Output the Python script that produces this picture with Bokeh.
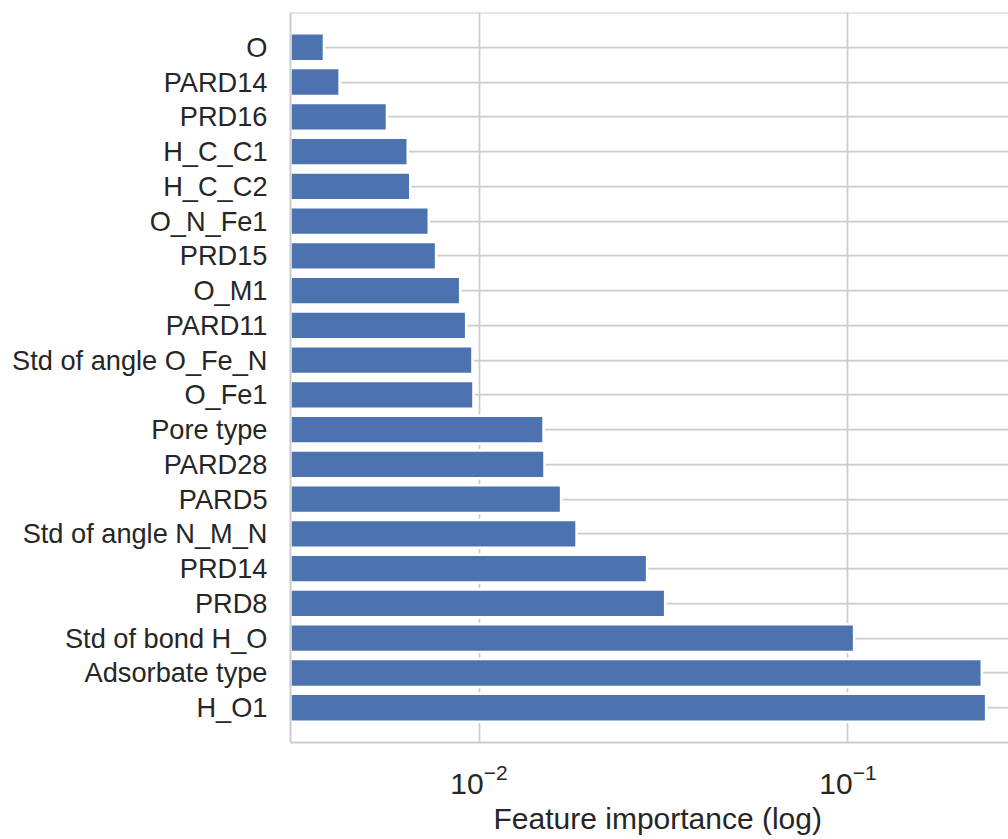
from bokeh.plotting import figure
from bokeh.models import Range1d, FixedTicker, Span, Title, LogTickFormatter
from bokeh.embed import file_html
from bokeh.resources import INLINE

# Features, top to bottom as displayed
features = ["O", "PARD14", "PRD16", "H_C_C1", "H_C_C2", "O_N_Fe1", "PRD15", "O_M1",
            "PARD11", "Std of angle O_Fe_N", "O_Fe1", "Pore type", "PARD28", "PARD5",
            "Std of angle N_M_N", "PRD14", "PRD8", "Std of bond H_O", "Adsorbate type", "H_O1"]
importance = [0.0038, 0.00419, 0.00563, 0.00641, 0.00651, 0.00731, 0.00765, 0.00889,
              0.00923, 0.0096, 0.00966, 0.01496, 0.01505, 0.01669, 0.01838, 0.02855,
              0.03195, 0.1039, 0.2305, 0.2368]
xtick_values = [0.01, 0.1]
x_label = "Feature importance (log)"

FONT = "Liberation Sans"
TEXT = "#262626"
GRID = "#cccccc"
BAR = "#4C72B0"

n = len(features)
ys = list(range(n))

p = figure(width=1008, height=839, x_axis_type="log",
           x_range=Range1d(0.003084, 0.2723), y_range=Range1d(n, -1),
           output_backend="svg", toolbar_location=None,
           min_border_left=290, min_border_right=0, min_border_top=12, min_border_bottom=97)
p.outline_line_color = None
p.background_fill_color = "white"
p.border_fill_color = "white"

p.hbar(y=ys, left=1e-5, right=importance, height=0.8,
       fill_color=BAR, line_color="white", line_width=2.5)

# grids
p.xgrid.ticker = FixedTicker(ticks=xtick_values)
p.ygrid.ticker = FixedTicker(ticks=ys)
for g in (p.xgrid, p.ygrid):
    g.grid_line_color = GRID
    g.grid_line_width = 1.75
p.xgrid.minor_grid_line_color = None

# x axis (log formatter draws 10 with a superscript exponent)
xa = p.xaxis[0]
xa.ticker = FixedTicker(ticks=xtick_values)
xa.formatter = LogTickFormatter()
xa.major_tick_line_color = None
xa.minor_tick_line_color = None
xa.major_tick_in = 0
xa.major_tick_out = 0
xa.minor_tick_in = 0
xa.minor_tick_out = 0
xa.axis_line_color = GRID
xa.axis_line_width = 2
xa.major_label_text_font = FONT
xa.major_label_text_font_size = "30px"
xa.major_label_text_color = TEXT
xa.major_label_standoff = 21

# y axis
ya = p.yaxis[0]
ya.ticker = FixedTicker(ticks=ys)
ya.major_label_overrides = {i: f for i, f in zip(ys, features)}
ya.major_tick_line_color = None
ya.minor_tick_line_color = None
ya.major_tick_in = 0
ya.major_tick_out = 0
ya.axis_line_color = GRID
ya.axis_line_width = 2
ya.major_label_text_font = FONT
ya.major_label_text_font_size = "27.2px"
ya.major_label_text_color = TEXT
ya.major_label_standoff = 23

# top spine
p.add_layout(Span(location=-1, dimension="width", line_color=GRID, line_width=2))

# x axis label
p.add_layout(Title(text=x_label, align="left", offset=203, standoff=7,
                   text_font=FONT, text_font_size="30px", text_font_style="normal",
                   text_color=TEXT), "below")

open("out.html", "w").write(file_html(p, INLINE))
